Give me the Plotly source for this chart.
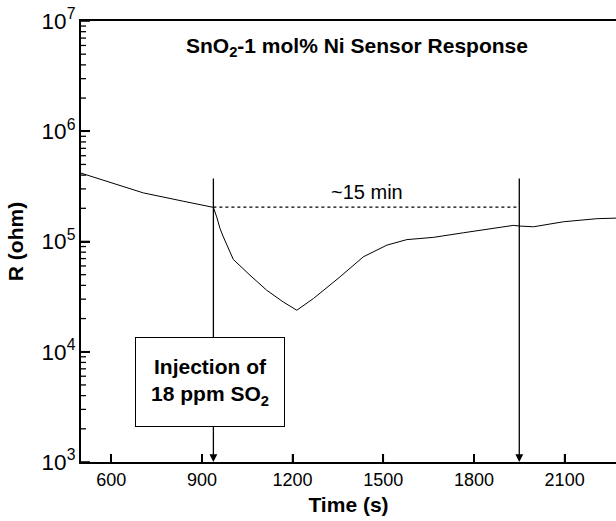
import numpy as np
import plotly.graph_objects as go

# Data
time_s = [500, 706, 838, 938, 949, 960, 971, 1004, 1059, 1114, 1169, 1214,
          1269, 1357, 1434, 1512, 1578, 1666, 1765, 1853, 1930, 1953, 1997,
          2096, 2206, 2270]
resistance = [4.17e5, 2.76e5, 2.32e5, 2.04e5, 1.67e5, 1.31e5, 1.10e5, 6.87e4,
              4.95e4, 3.62e4, 2.83e4, 2.38e4, 3.04e4, 4.78e4, 7.26e4, 9.27e4,
              1.04e5, 1.09e5, 1.20e5, 1.31e5, 1.40e5, 1.38e5, 1.36e5, 1.51e5,
              1.61e5, 1.63e5]

inject_t = 938
recover_t = 1950
baseline_R = 2.05e5
marker_top_R = 3.84e5

x_ticks = [600, 900, 1200, 1500, 1800, 2100]
y_decades = [3, 4, 5, 6, 7]

FONT = "Liberation Sans, Arial, sans-serif"

# layout geometry
W, H = 616, 521
ML, MR, MT, MB = 81, 0, 21, 59
x_range = [500, 2270]
y_range = [3, 7]
plot_w = W - ML - MR
plot_h = H - MT - MB
x_per_px = (x_range[1] - x_range[0]) / plot_w
dec_per_px = (y_range[1] - y_range[0]) / plot_h

major_y = [10 ** e for e in y_decades]
minor_y = [m * 10 ** e for e in y_decades[:-1] for m in range(2, 10)]


def hticks(vals, length_px):
    xs, ys = [], []
    for v in vals:
        xs += [x_range[0], x_range[0] + length_px * x_per_px, None]
        ys += [v, v, None]
    return xs, ys


def vticks(vals, length_px):
    xs, ys = [], []
    y0 = 10 ** y_range[0]
    y1 = 10 ** (y_range[0] + length_px * dec_per_px)
    for v in vals:
        xs += [v, v, None]
        ys += [y0, y1, None]
    return xs, ys


fig = go.Figure()
fig.add_trace(go.Scatter(x=time_s, y=resistance, mode="lines",
                         line=dict(color="black", width=1), showlegend=False,
                         hoverinfo="x+y"))
fig.add_trace(go.Scatter(x=[inject_t, recover_t], y=[baseline_R, baseline_R],
                         mode="lines", line=dict(color="black", width=1.3, dash="dot"),
                         showlegend=False, hoverinfo="skip"))
for (xs, ys), w in ((hticks(major_y, 9), 1.6), (hticks(minor_y, 5), 1.3),
                    (vticks(x_ticks, 8), 1.6)):
    fig.add_trace(go.Scatter(x=xs, y=ys, mode="lines", connectgaps=False,
                             line=dict(color="black", width=w), showlegend=False,
                             hoverinfo="skip"))

ann = []
for t in (inject_t, recover_t):
    ann.append(dict(x=t, y=y_range[0], ax=t, ay=np.log10(marker_top_R), xref="x", yref="y",
                    axref="x", ayref="y", text="", showarrow=True, arrowhead=2,
                    arrowsize=1.2, arrowwidth=1.3, arrowcolor="black"))
ann.append(dict(x=(210 - ML) / plot_w, y=1 - (382 - MT) / plot_h, xref="paper", yref="paper",
                xanchor="center", yanchor="middle",
                text="<b>Injection of<br>18 ppm SO<sub>2</sub></b>", showarrow=False,
                font=dict(family=FONT, size=21, color="black"),
                bordercolor="black", borderwidth=1, bgcolor="white",
                width=140, height=80, borderpad=4, align="center"))
ann.append(dict(x=(357 - ML) / plot_w, y=1 - (47 - MT) / plot_h, xref="paper", yref="paper",
                xanchor="center", yanchor="middle",
                text="<b>SnO<sub>2</sub>-1 mol% Ni Sensor Response</b>", showarrow=False,
                font=dict(family=FONT, size=21, color="black")))
ann.append(dict(x=(367 - ML) / plot_w, y=1 - (192 - MT) / plot_h, xref="paper", yref="paper",
                xanchor="center", yanchor="middle",
                text="~15 min", showarrow=False,
                font=dict(family=FONT, size=20, color="black")))

fig.update_layout(
    width=W, height=H,
    margin=dict(l=ML, r=MR, t=MT, b=MB, autoexpand=False),
    paper_bgcolor="white", plot_bgcolor="white",
    font=dict(family=FONT, size=18, color="black"),
    annotations=ann,
    xaxis=dict(range=x_range, tickmode="array", tickvals=x_ticks,
               ticks="inside", ticklen=8, tickwidth=1.5, tickcolor="black",
               showline=True, linewidth=2, linecolor="black",
               mirror=True, showgrid=False, zeroline=False, automargin=False,
               title=dict(text="<b>Time (s)</b>", font=dict(size=21), standoff=9)),
    yaxis=dict(type="log", range=y_range, dtick=1, exponentformat="power",
               ticks="inside", ticklen=9, tickwidth=1.5, tickcolor="black",
               showline=True, linewidth=2, linecolor="black", showgrid=False,
               zeroline=False, automargin=False,
               title=dict(text="<b>R (ohm)</b>", font=dict(size=21), standoff=12)),
)

fig.write_html("out.html", config={"displayModeBar": False},
               post_script="document.body.style.margin='0';")
